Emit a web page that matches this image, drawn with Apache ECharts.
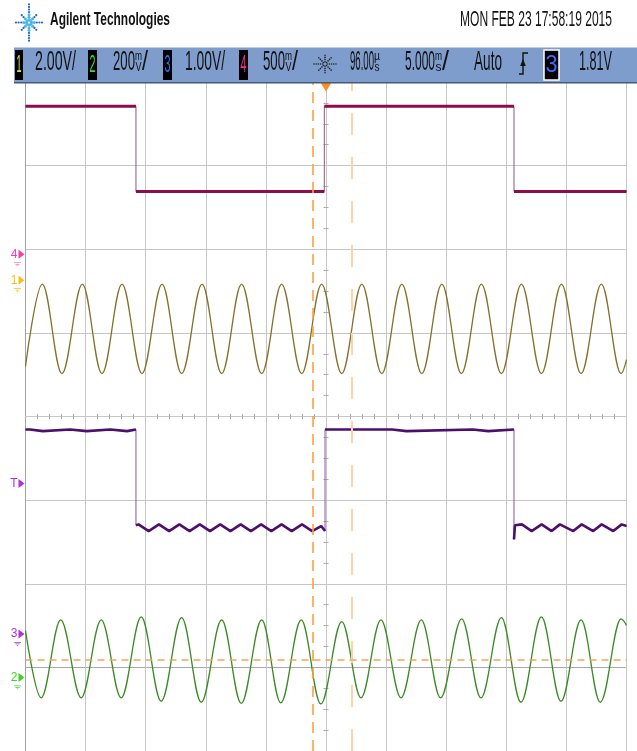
<!DOCTYPE html>
<html>
<head>
<meta charset="utf-8">
<title>Agilent scope capture</title>
<script src="https://cdn.jsdelivr.net/npm/echarts@6/dist/echarts.min.js"></script>
<style>
  html, body { margin: 0; padding: 0; background: #fff; }
  #chart { width: 637px; height: 751px; }
</style>
</head>
<body>
<div id="chart"></div>
<script>
// time axis in ms (10 div x 5 ms), vertical values in screen divisions (8 div)
const timeMin = -25;
const timeMax = 25;
const timePerDiv = 5;

// channel 1 - square wave
const ch1Points = [
  [-25, 3.71], [-15.81, 3.71], [-15.81, 2.69], [-0.14, 2.69],
  [-0.14, 3.71], [15.64, 3.71], [15.64, 2.69], [25, 2.69]
];

// channel 2 - sine, peak / trough times
const ch2PeakTimes = [-23.6, -20.27, -16.97, -13.64, -10.31, -7.02, -3.69, -0.36, 2.98, 6.31, 9.64, 12.93, 16.26, 19.59, 22.91];
const ch2TroughTimes = [-21.97, -18.64, -15.31, -12.01, -8.68, -5.35, -2.02, 1.31, 4.64, 7.97, 11.26, 14.59, 17.92, 21.22, 24.55];
const ch2High = 1.583;
const ch2Low = 0.512;
const ch2Ends = [[-25, 0.6], [25, 0.68]];

// channel 3 - square wave with ripple on the low level
const ch3Points = [
  [-25, -0.155], [-24.63, -0.155], [-24.6, -0.175], [-23.55, -0.175], [-23.5, -0.155],
  [-21.3, -0.155], [-21.25, -0.175], [-19.9, -0.175], [-19.85, -0.155],
  [-17.95, -0.155], [-17.9, -0.175], [-16.55, -0.175], [-16.5, -0.155],
  [-15.81, -0.155], [-15.81, -1.3],
  [-15.6, -1.29], [-14.75, -1.37], [-13.9, -1.29], [-13.05, -1.37], [-12.2, -1.29],
  [-11.35, -1.37], [-10.5, -1.29], [-9.65, -1.37], [-8.8, -1.29], [-7.95, -1.37],
  [-7.1, -1.29], [-6.25, -1.37], [-5.4, -1.29], [-4.55, -1.37], [-3.7, -1.29],
  [-2.85, -1.37], [-2.0, -1.29], [-1.15, -1.37], [-0.4, -1.31], [-0.08, -1.37],
  [-0.08, -0.155], [5.5, -0.155], [5.55, -0.175], [6.7, -0.175], [6.75, -0.155],
  [12.2, -0.155], [12.25, -0.175], [13.5, -0.175], [13.55, -0.155], [15.64, -0.155],
  [15.64, -1.47], [15.72, -1.3], [16.3, -1.29], [17.11, -1.37], [17.94, -1.29],
  [18.77, -1.37], [19.46, -1.29], [20.57, -1.37], [21.27, -1.29], [22.23, -1.37],
  [22.93, -1.29], [23.9, -1.37], [24.6, -1.29], [25, -1.31]
];

// channel 4 - sine, [time, level] at peaks and troughs
const ch4Peaks = [
  [-22.07, -2.433], [-18.7, -2.433], [-15.37, -2.397], [-12.01, -2.405], [-8.68, -2.433],
  [-5.35, -2.433], [-2.06, -2.433], [1.31, -2.452], [4.57, -2.433], [7.93, -2.433],
  [11.29, -2.42], [14.59, -2.405], [17.92, -2.397], [21.22, -2.433], [24.55, -2.42]
];
const ch4Troughs = [
  [-23.7, -3.365], [-20.37, -3.365], [-17.04, -3.365], [-13.71, -3.405], [-10.38, -3.417],
  [-7.05, -3.43], [-3.76, -3.425], [-0.43, -3.437], [2.91, -3.365], [6.24, -3.365],
  [9.53, -3.365], [12.89, -3.365], [16.22, -3.417], [19.55, -3.405], [22.82, -3.417]
];
const ch4Ends = [[-25, -2.56], [25, -2.5]];

// cursors and reference markers
const cursorTimes = [-1.14, 2.14];
const cursorLevel = -2.913;
const markerLabels = ['4', '1', 'T', '3', '2'];
const markerLevels = [1.94, 1.63, -0.8, -2.6, -3.12];
const markerGround = [true, true, false, true, true];

// header texts
const brandText = 'Agilent Technologies';
const dateText = 'MON FEB 23 17:58:19 2015';

const FONT = "'Liberation Sans Narrow', 'Arial Narrow', 'Liberation Sans', sans-serif";
const gridGray = '#c6c6c6';
const edgeGray = '#a2a2a2';
const markerColors = ['#ff3b9d', '#f2c21b', '#b030e0', '#b030e0', '#3fd323'];
const groundPath = 'path://M0,0h10v1.3h-10z M2,3h6v1.3h-6z M4,6h2v1.3h-2z';

const measure = document.createElement('canvas').getContext('2d');

// text squeezed to a given width (the scope font is very condensed)
function textEl(text, left, cy, width, size, color, weight) {
  const font = (weight || 'normal') + ' ' + size + 'px ' + FONT;
  measure.font = font;
  const w = measure.measureText(text).width;
  return {
    type: 'text', x: left, y: cy, scaleX: width / w, z: 110, silent: true,
    style: { text: text, font: font, fill: color, textAlign: 'left', textVerticalAlign: 'middle' }
  };
}

function chanBox(x, w, digit, color, framed) {
  return [
    { type: 'rect', z: 108, silent: true, shape: { x: x, y: 50, width: w, height: 30 },
      style: { fill: '#000', stroke: framed ? '#fff' : null, lineWidth: framed ? 1.5 : 0 } },
    textEl(digit, x + 1.5, 65.5, w - 3, 24, color)
  ];
}

function starburst(cx, cy, rays, step, colorIn, colorOut, rIn, rOut) {
  const out = [];
  rays.forEach(function (ray) {
    for (let r = step; r <= ray[2]; r += step) {
      const inner = r < ray[2] * 0.5;
      out.push({ type: 'circle', z: 110, silent: true,
        shape: { cx: cx + ray[0] * r, cy: cy + ray[1] * r, r: inner ? rIn : rOut },
        style: { fill: inner ? colorIn : colorOut } });
    }
  });
  return out;
}

function mergeExtrema(ends, extrema) {
  return [ends[0]].concat(extrema, [ends[1]]).sort(function (a, b) { return a[0] - b[0]; });
}

// keep only the level runs (edges become gaps) so they can be drawn thicker
function levelRuns(points) {
  const out = [];
  points.forEach(function (p, i) {
    out.push(p);
    const next = points[i + 1];
    if (next && next[0] === p[0]) out.push([p[0], '-']);
  });
  return out;
}

const ch2Data = mergeExtrema(ch2Ends,
  ch2PeakTimes.map(function (t) { return [t, ch2High]; })
    .concat(ch2TroughTimes.map(function (t) { return [t, ch2Low]; })));
const ch4Data = mergeExtrema(ch4Ends, ch4Peaks.concat(ch4Troughs));

function trace(name, data, color, width, extra) {
  return Object.assign({
    name: name, type: 'line', data: data, symbol: 'none', showSymbol: false,
    silent: true, z: 3, lineStyle: { color: color, width: width }
  }, extra || {});
}

const xSplitColors = [edgeGray].concat(new Array(10).fill(gridGray));
const ySplitColors = [gridGray, '#a8a8a8'].concat(new Array(7).fill(gridGray));

function xAxisDef(inside, main) {
  return {
    type: 'value', min: timeMin, max: timeMax, interval: timePerDiv, position: 'bottom',
    axisLabel: { show: false },
    axisLine: { show: main, onZero: true, onZeroAxisIndex: 0, lineStyle: { color: gridGray } },
    axisTick: { show: false, inside: inside },
    minorTick: { show: true, splitNumber: 5, length: 2.5, lineStyle: { color: '#aaaaaa' } },
    splitLine: { show: main, lineStyle: { color: xSplitColors, width: 1 } }
  };
}
function yAxisDef(inside, main) {
  return {
    type: 'value', min: -4, max: 4, interval: 1, position: 'left',
    axisLabel: { show: false },
    axisLine: { show: main, onZero: true, onZeroAxisIndex: 0, lineStyle: { color: gridGray } },
    axisTick: { show: false, inside: inside },
    minorTick: { show: true, splitNumber: 4, length: 2.5, lineStyle: { color: '#aaaaaa' } },
    splitLine: { show: main, lineStyle: { color: ySplitColors, width: 1 } }
  };
}

const headerGraphics = [].concat(
  starburst(29, 22.5, [[0, -1, 20], [0, 1, 20], [-1, 0, 14], [1, 0, 14],
    [-0.7, -0.7, 12], [0.7, -0.7, 12], [-0.7, 0.7, 12], [0.7, 0.7, 12]],
    2.6, '#4db6e8', '#2366c4', 1.5, 1.1),
  [textEl(brandText, 50, 19.5, 120, 19, '#111', 'bold'),
   textEl(dateText, 460, 20, 152, 22, '#111'),
   { type: 'rect', z: 100, silent: true, shape: { x: 14, y: 47.5, width: 623, height: 35 }, style: { fill: '#7e9dcc' } },
   { type: 'rect', z: 101, silent: true, shape: { x: 14, y: 82, width: 623, height: 1.6 }, style: { fill: '#46597a' } }],
  chanBox(15, 8, '1', '#e8e81a'),
  [textEl('2.00V/', 35, 62.5, 41, 28, '#111')],
  chanBox(88, 9, '2', '#37e037'),
  [textEl('200', 113, 62.5, 22, 28, '#111'),
   textEl('m', 135, 56.5, 7, 12, '#111'), textEl('V', 135.5, 68, 6, 12, '#111'),
   textEl('/', 142, 62.5, 6, 28, '#111')],
  chanBox(163, 9, '3', '#3a6cff'),
  [textEl('1.00V/', 185, 62.5, 40, 28, '#111')],
  chanBox(239, 9, '4', '#ff2a8c'),
  [textEl('500', 263, 62.5, 22, 28, '#111'),
   textEl('m', 285, 56.5, 7, 12, '#111'), textEl('V', 285.5, 68, 6, 12, '#111'),
   textEl('/', 292, 62.5, 6, 28, '#111')],
  starburst(325, 64, [[0, -1, 10], [0, 1, 10], [-1, 0, 12], [1, 0, 12],
    [-0.7, -0.7, 9], [0.7, -0.7, 9], [-0.7, 0.7, 9], [0.7, 0.7, 9]],
    2.2, '#222', '#222', 0.8, 0.8),
  [textEl('96.00', 350, 62.5, 24, 28, '#111'),
   textEl('µ', 374, 56.5, 6, 12, '#111'), textEl('s', 374.5, 68, 5, 12, '#111'),
   textEl('5.000', 405, 62.5, 30, 28, '#111'),
   textEl('m', 435, 56.5, 7, 12, '#111'), textEl('s', 435.5, 68, 6, 12, '#111'),
   textEl('/', 442, 62.5, 7, 28, '#111'),
   textEl('Auto', 474, 62.5, 28, 28, '#111'),
   { type: 'polyline', z: 110, silent: true,
     shape: { points: [[519, 74], [523, 74], [523, 53], [528, 53]] },
     style: { stroke: '#111', lineWidth: 1.4, fill: null } },
   { type: 'polygon', z: 110, silent: true,
     shape: { points: [[520.2, 66], [525.8, 66], [523, 59]] }, style: { fill: '#111' } }],
  chanBox(544, 15, '3', '#3a6cff', true),
  [textEl('1.81V', 579, 62.5, 33, 28, '#111')]
);

const levelMarkers = [];
markerLabels.forEach(function (lab, i) {
  levelMarkers.push({
    coord: [timeMin, markerLevels[i]], symbol: 'triangle', symbolRotate: -90,
    symbolSize: [9, 6], symbolOffset: [-4, 0], itemStyle: { color: markerColors[i] },
    label: { show: true, position: 'left', distance: 1, formatter: lab,
      color: markerColors[i], fontSize: 12, fontFamily: FONT }
  });
  if (markerGround[i]) {
    levelMarkers.push({
      coord: [timeMin, markerLevels[i]], symbol: groundPath, symbolKeepAspect: true,
      symbolSize: [7, 5], symbolOffset: [-8, 10], itemStyle: { color: markerColors[i] },
      label: { show: false }
    });
  }
});

const chart = echarts.init(document.getElementById('chart'));
chart.setOption({
  animation: false,
  backgroundColor: '#ffffff',
  grid: { left: 25.5, right: 10.5, top: 82, bottom: -3, containLabel: false },
  xAxis: [xAxisDef(false, true), xAxisDef(true, false)],
  yAxis: [yAxisDef(false, true), yAxisDef(true, false)],
  graphic: { elements: headerGraphics },
  series: [
    trace('ch1 edges', ch1Points, '#8d5877', 1),
    trace('ch1', levelRuns(ch1Points), '#8b0d4d', 3),
    trace('ch2', ch2Data, '#86702a', 1.3, { smooth: 0.363, smoothMonotone: 'x' }),
    trace('ch3 edges', ch3Points, '#8757a6', 1),
    trace('ch3', levelRuns(ch3Points), '#4e0e6e', 2.6),
    trace('ch4', ch4Data, '#3a8a25', 1.3, { smooth: 0.363, smoothMonotone: 'x' }),
    {
      name: 'cursors', type: 'line', data: [], silent: true,
      markLine: {
        silent: true, symbol: 'none', animation: false, label: { show: false }, z: 6,
        data: [
          { xAxis: cursorTimes[0], lineStyle: { color: '#ffa13c', width: 1.6, type: [11, 7] } },
          { xAxis: cursorTimes[1], lineStyle: { color: '#ffd2a8', width: 2, type: [22, 22] } },
          { yAxis: cursorLevel, lineStyle: { color: '#f6a35a', width: 1.6, type: [7, 5] } }
        ]
      },
      markPoint: {
        silent: true, animation: false, z: 7,
        data: [{
          coord: [0, 4], symbol: 'triangle', symbolRotate: 180, symbolSize: [11, 9],
          symbolOffset: [0, 5], itemStyle: { color: '#ff8c1a' }, label: { show: false }
        }].concat(levelMarkers)
      }
    }
  ]
});
</script>
</body>
</html>
